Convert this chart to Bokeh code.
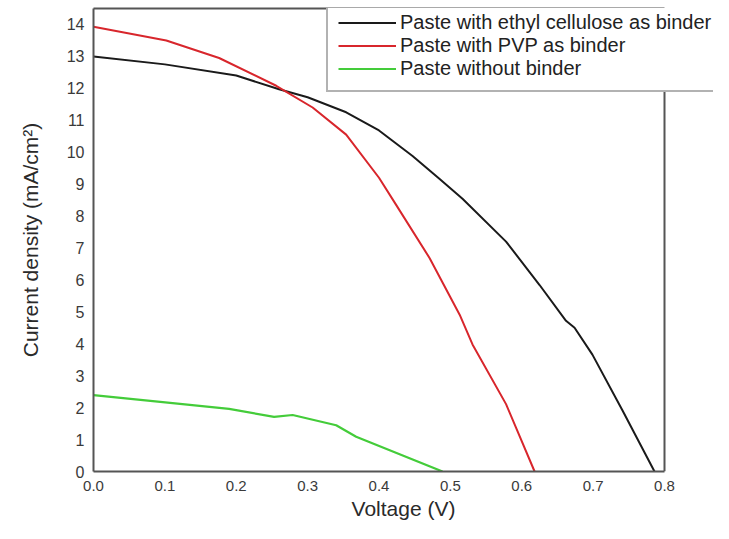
from bokeh.plotting import figure
from bokeh.models import Range1d, FixedTicker, Legend, LegendItem, Span, LinearAxis
from bokeh.embed import file_html
from bokeh.resources import INLINE

# Data
v_ethyl = [0.0, 0.1, 0.2, 0.26, 0.3, 0.354, 0.4, 0.447, 0.485, 0.517, 0.578, 0.625, 0.662, 0.674, 0.699, 0.741, 0.786]
j_ethyl = [13.0, 12.75, 12.4, 11.97, 11.72, 11.25, 10.68, 9.88, 9.16, 8.54, 7.2, 5.84, 4.72, 4.5, 3.66, 1.92, 0.0]

v_pvp = [0.0, 0.102, 0.176, 0.256, 0.307, 0.354, 0.4, 0.424, 0.471, 0.513, 0.531, 0.578, 0.618]
j_pvp = [13.93, 13.5, 12.95, 12.08, 11.4, 10.55, 9.2, 8.35, 6.68, 4.91, 3.98, 2.11, 0.0]

v_none = [0.0, 0.097, 0.19, 0.253, 0.279, 0.34, 0.368, 0.489]
j_none = [2.39, 2.17, 1.96, 1.71, 1.77, 1.45, 1.09, 0.0]

x_ticks = [0.0, 0.1, 0.2, 0.3, 0.4, 0.5, 0.6, 0.7, 0.8]
y_ticks = list(range(0, 15))
x_max = 0.8      # right edge of the plotted box
y_max = 14.5     # top edge of the plotted box

labels = ["Paste with ethyl cellulose as binder", "Paste with PVP as binder", "Paste without binder"]
colors = ["#1a1a1a", "#d8262c", "#44cc3a"]

FONT = "Liberation Sans"
FRAME = "#555555"

# The frame is extended to the right so that the legend may overhang the box
p = figure(width=713, height=523, output_backend="svg", toolbar_location=None,
           x_range=Range1d(0, x_max * 620 / 571), y_range=Range1d(0, y_max),
           min_border_left=93, min_border_right=0, min_border_top=8, min_border_bottom=52)

r1 = p.line(v_ethyl, j_ethyl, line_color=colors[0], line_width=2)
r2 = p.line(v_pvp, j_pvp, line_color=colors[1], line_width=2)
r3 = p.line(v_none, j_none, line_color=colors[2], line_width=2.2)

p.xgrid.visible = False
p.ygrid.visible = False
p.outline_line_color = None
p.background_fill_color = "white"
p.border_fill_color = "white"

bx = p.below[0]
ly = p.left[0]

# right edge of the box
p.add_layout(Span(location=x_max, dimension="height", line_color=FRAME, line_width=2))
# top edge of the box: an unlabelled axis restricted to the box width
top_axis = LinearAxis(bounds=(0, x_max), ticker=FixedTicker(ticks=[]),
                      axis_line_color=FRAME, axis_line_width=2,
                      major_tick_line_color=None, minor_tick_line_color=None,
                      major_tick_out=0, major_tick_in=0,
                      major_label_standoff=0, major_label_text_font_size="0px")
p.add_layout(top_axis, "above")

bx.ticker = FixedTicker(ticks=x_ticks)
ly.ticker = FixedTicker(ticks=y_ticks)
bx.bounds = (0, x_max)
ly.bounds = (0, y_max)
bx.major_label_overrides = {t: f"{t:.1f}" for t in x_ticks}

for ax in (bx, ly):
    ax.axis_line_color = FRAME
    ax.axis_line_width = 2
    ax.major_tick_line_color = None
    ax.minor_tick_line_color = None
    ax.major_tick_out = 0
    ax.major_tick_in = 0
    ax.major_label_text_font = FONT
    ax.major_label_text_color = "#3a3a3a"
    ax.axis_label_text_font = FONT
    ax.axis_label_text_font_size = "21px"
    ax.axis_label_text_font_style = "normal"
    ax.axis_label_text_color = "#2a2a2a"

bx.major_label_text_font_size = "15px"
ly.major_label_text_font_size = "16px"
bx.axis_label = "Voltage (V)"
ly.axis_label = "Current density (mA/cm\u00b2)"
bx.major_label_standoff = 9
ly.major_label_standoff = 9
bx.axis_label_standoff = 3
ly.axis_label_standoff = 22

legend = Legend(items=[LegendItem(label=labels[0], renderers=[r1]),
                       LegendItem(label=labels[1], renderers=[r2]),
                       LegendItem(label=labels[2], renderers=[r3])],
                location=(233, 379))
legend.label_text_font = FONT
legend.label_text_font_size = "20px"
legend.label_text_color = "#222222"
legend.glyph_width = 58
legend.glyph_height = 21
legend.label_height = 21
legend.label_standoff = 4
legend.spacing = 0
legend.padding = 10
legend.margin = 0
legend.border_line_color = "#666666"
legend.border_line_width = 2
legend.background_fill_alpha = 1.0
p.add_layout(legend, "center")

open("out.html", "w").write(file_html(p, INLINE))
